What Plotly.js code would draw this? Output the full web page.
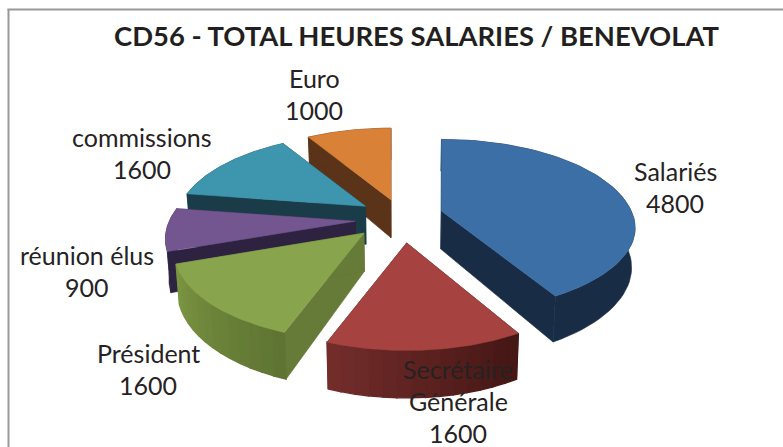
<!DOCTYPE html>
<html>
<head>
<meta charset="utf-8">
<script src="https://cdn.plot.ly/plotly-3.0.1.min.js"></script>
<style>html,body{margin:0;padding:0;background:#fff;overflow:hidden}</style>
</head>
<body>
<div id="chart" style="width:783px;height:447px"></div>
<script>
// Data
var categories = ["Salariés", "Secrétaire Générale", "Président", "réunion élus", "commissions", "Euro"];
var values = [4800, 1600, 1600, 900, 1600, 1000];
var chartTitle = "CD56 - TOTAL HEURES SALARIES / BENEVOLAT";

// Styles
var topColors = ["#3c6fa6", "#a64341", "#88a54e", "#735590", "#3d96ae", "#d98137"];
var sideColors = ["#182d45", "#461815", "#667b38", "#2d2340", "#1a3c49", "#5a3319"];
var rimFrom = ["#182d45", "#742d2b", "#7b9642", "#2d2340", "#1a3c49", "#5a3319"];
var rimTo = ["#182d45", "#431614", "#5e7332", "#2d2340", "#1a3c49", "#5a3319"];
var labelLines = [["Salariés"], ["Secrétaire", "Générale"], ["Président"], ["réunion élus"], ["commissions"], ["Euro"]];
var labelX = [675, 458, 148, 87, 142, 314];
var labelY = [171, 369, 353, 255, 137, 78];
var lineGap = 32;
var drawOrder = [5, 4, 3, 0, 2, 1];
var widthAdjust = [1.02, 1, 1, 1, 1, 1];
var frontAdjust = [0.94, 1, 1, 1, 1, 1];
var nudgeX = [-2, 3, -4, 0, 3, 3];
var nudgeY = [-2, 1, -2, 0, 0, 3];

// Projection of the tilted exploded disc
var cx = 400, cy = 219, Rx = 186, Ry = 86, persp = 0.2, pullX = 45, pullY = 23, depth = 38, shrink = 0.985;
function rad(d) { return d * Math.PI / 180; }
function rim(i, apex, deg) {
  var wx = Math.sin(rad(deg)), wy = Math.cos(rad(deg)), s = 1 / (1 + persp * wy);
  var fy = wy < 0 ? frontAdjust[i] : 1;
  return { x: apex.x + Rx * widthAdjust[i] * wx * s, y: apex.y - Ry * fy * wy * s, d: depth * s };
}
function low(x) { return cx + (x - cx) * shrink; }
function hex(c) { return [1, 3, 5].map(function (i) { return parseInt(c.substr(i, 2), 16); }); }
function mix(a, b, t) {
  var A = hex(a), B = hex(b);
  return "rgb(" + A.map(function (v, i) { return Math.round(v + (B[i] - v) * t); }).join(",") + ")";
}
function poly(xs, ys, color, lw) {
  return { type: "scatter", mode: "lines", x: xs.concat([xs[0]]), y: ys.concat([ys[0]]), fill: "toself",
    fillcolor: color, line: { color: color, width: lw === undefined ? 0.6 : lw }, hoverinfo: "skip", showlegend: false };
}

var total = values.reduce(function (a, b) { return a + b; }, 0);
var starts = [], acc = 0;
values.forEach(function (v) { starts.push(acc / total * 360); acc += v; });

var traces = [];
drawOrder.forEach(function (i) {
  var a0 = starts[i], a1 = a0 + values[i] / total * 360, mid = (a0 + a1) / 2;
  var apex = { x: cx + pullX * Math.sin(rad(mid)) + nudgeX[i], y: cy - pullY * Math.cos(rad(mid)) + nudgeY[i] };
  var p0 = rim(i, apex, a0), p1 = rim(i, apex, a1);
  // radial walls
  traces.push(poly([apex.x, p0.x, low(p0.x), low(apex.x)], [apex.y, p0.y, p0.y + p0.d, apex.y + depth], sideColors[i]));
  traces.push(poly([apex.x, p1.x, low(p1.x), low(apex.x)], [apex.y, p1.y, p1.y + p1.d, apex.y + depth], sideColors[i]));
  // outer wall
  if (rimFrom[i] === rimTo[i]) {
    var wx = [], wy = [], bx = [], by = [];
    for (var m = 0; m <= 60; m++) {
      var r = rim(i, apex, a0 + (a1 - a0) * m / 60);
      wx.push(r.x); wy.push(r.y); bx.unshift(low(r.x)); by.unshift(r.y + r.d);
    }
    traces.push(poly(wx.concat(bx), wy.concat(by), rimFrom[i]));
  } else {
    // bands for the shading
    var n = 14;
    for (var k = 0; k < n; k++) {
      var u = rim(i, apex, a0 + (a1 - a0) * k / n), w = rim(i, apex, a0 + (a1 - a0) * (k + 1) / n);
      var t = (k + 0.5) / n;
      traces.push(poly([u.x, w.x, low(w.x), low(u.x)], [u.y, w.y, w.y + w.d, u.y + u.d], mix(rimTo[i], rimFrom[i], t), 1.4));
    }
  }
  // top face
  var xs = [apex.x], ys = [apex.y];
  for (var j = 0; j <= 80; j++) {
    var q = rim(i, apex, a0 + (a1 - a0) * j / 80);
    xs.push(q.x); ys.push(q.y);
  }
  traces.push(poly(xs, ys, topColors[i]));
});

var annotations = [];
categories.forEach(function (c, i) {
  labelLines[i].concat([String(values[i])]).forEach(function (line, k) {
    annotations.push({ x: labelX[i], y: labelY[i] + k * lineGap, xref: "x", yref: "y", text: line, showarrow: false,
      xanchor: "center", yanchor: "middle", font: { family: "Lato, 'Open Sans', sans-serif", size: 25, color: "#262223" } });
  });
});

var layout = {
  width: 783, height: 447, margin: { l: 0, r: 0, t: 0, b: 0 },
  paper_bgcolor: "#ffffff", plot_bgcolor: "#ffffff", showlegend: false,
  title: { text: "<b>" + chartTitle + "</b>", x: 416.5 / 783, xanchor: "center", y: 1 - 36 / 447, yanchor: "middle",
    font: { family: "Lato, 'Open Sans', sans-serif", size: 27.4, color: "#231f20" } },
  xaxis: { range: [0, 783], visible: false, fixedrange: true },
  yaxis: { range: [447, 0], visible: false, fixedrange: true },
  shapes: [
    { type: "line", xref: "paper", yref: "paper", x0: 8.5 / 783, x1: 8.5 / 783, y0: 0, y1: 1 - 9 / 447, line: { color: "#999999", width: 2 } },
    { type: "line", xref: "paper", yref: "paper", x0: 7.5 / 783, x1: 1, y0: 1 - 9.5 / 447, y1: 1 - 9.5 / 447, line: { color: "#999999", width: 2 } }
  ],
  annotations: annotations
};
Plotly.newPlot("chart", traces, layout, { displayModeBar: false, staticPlot: true });
</script>
</body>
</html>
